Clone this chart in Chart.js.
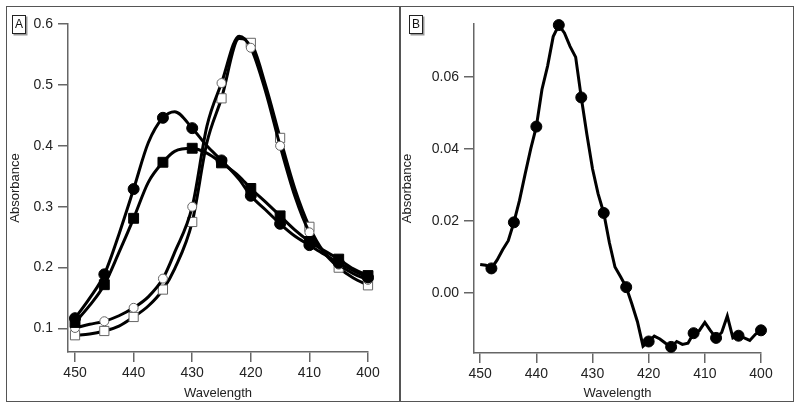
<!DOCTYPE html>
<html>
<head>
<meta charset="utf-8">
<script src="https://cdn.jsdelivr.net/npm/chart.js@4.4.0/dist/chart.umd.min.js"></script>
<style>
body { margin: 0; background: #fff; }
#wrap { position: relative; width: 800px; height: 407px; font-family: "Liberation Sans", Arial, sans-serif; }
canvas { position: absolute; top: 0; }
#chartA { left: 0; }
#chartB { left: 400px; }
.frame { position: absolute; border: 1.5px solid #555; box-sizing: border-box; pointer-events: none; }
.tag { position: absolute; box-sizing: border-box; width: 14px; height: 19px; border: 1px solid #222;
       box-shadow: 1.5px 1.5px 0 #999; font-size: 12px; line-height: 17px; text-align: center; color: #111; background: #fff; }
</style>
</head>
<body>
<div id="wrap">
  <canvas id="chartA" width="400" height="407"></canvas>
  <canvas id="chartB" width="400" height="407"></canvas>
  <div class="frame" style="left:6px;top:6px;width:395px;height:396px"></div>
  <div class="frame" style="left:399px;top:6px;width:395px;height:396px"></div>
  <div class="tag" style="left:12px;top:15px">A</div>
  <div class="tag" style="left:409px;top:15px">B</div>
</div>
<script>
// panel A : wavelength grid and the four spectra
let aWave = [450, 447.5, 445, 442.5, 440, 437.5, 435, 433, 430, 427.5, 425, 422, 420, 417.5, 415, 412.5, 410, 407.5, 405, 402.5, 400];
let aFilledCircle = [0.117, 0.150, 0.189, 0.255, 0.329, 0.405, 0.446, 0.456, 0.429, 0.400, 0.376, 0.345, 0.318, 0.295, 0.272, 0.252, 0.237, 0.222, 0.208, 0.195, 0.184];
let aFilledSquare = [0.110, 0.138, 0.172, 0.225, 0.281, 0.340, 0.373, 0.391, 0.396, 0.388, 0.372, 0.350, 0.330, 0.308, 0.285, 0.262, 0.243, 0.228, 0.214, 0.198, 0.187];
let aOpenCircle   = [0.101, 0.107, 0.112, 0.121, 0.134, 0.152, 0.182, 0.225, 0.300, 0.432, 0.503, 0.580, 0.561, 0.490, 0.400, 0.318, 0.258, 0.225, 0.205, 0.190, 0.180];
let aOpenSquare   = [0.089, 0.091, 0.096, 0.104, 0.119, 0.137, 0.164, 0.198, 0.275, 0.405, 0.478, 0.576, 0.569, 0.500, 0.413, 0.330, 0.267, 0.225, 0.200, 0.183, 0.171];
let aMarks = [450, 445, 440, 435, 430, 425, 420, 415, 410, 405, 400];
let aYTicks = [0.1, 0.2, 0.3, 0.4, 0.5, 0.6];

// panel B : difference spectrum
let bWave = [450, 449, 448, 447, 446, 445, 444, 443, 442, 441, 440, 439, 438, 437, 436, 435, 434, 433, 432, 431, 430,
             429, 428, 427, 426, 425, 424, 423, 422, 421, 420, 419, 418, 417, 416, 415, 414, 413, 412, 411, 410,
             409, 408, 407, 406, 405, 404, 403, 402, 401, 400];
let bValue = [0.0079, 0.0077, 0.0068, 0.0091, 0.0120, 0.0145, 0.0196, 0.0257, 0.0330, 0.0400, 0.0462,
              0.0565, 0.0630, 0.0712, 0.0744, 0.0722, 0.0685, 0.0655, 0.0543, 0.0440, 0.0345,
              0.0275, 0.0222, 0.0140, 0.0072, 0.0045, 0.0016, -0.0030, -0.0080, -0.0148, -0.0135,
              -0.0120, -0.0128, -0.0140, -0.0150, -0.0135, -0.0143, -0.0140, -0.0112, -0.0105, -0.0082,
              -0.0105, -0.0125, -0.0110, -0.0064, -0.0125, -0.0119, -0.0125, -0.0132, -0.0115, -0.0104];
let bMarks = [448, 444, 440, 436, 432, 428, 424, 420, 416, 412, 408, 404, 400];
let bYTicks = [0, 0.02, 0.04, 0.06];

let xTicks = [450, 440, 430, 420, 410, 400];

const axisColor = '#666';
const textColor = '#222';
const font = "'Liberation Sans', Arial, sans-serif";

function pts(xs, ys) {
    return xs.map((x, i) => ({x: x, y: ys[i]}));
}

function lineSet(xs, ys, marks, style, open, r) {
    return {
        data: pts(xs, ys),
        borderColor: '#000',
        borderWidth: 3,
        cubicInterpolationMode: 'monotone',
        pointStyle: style,
        pointRadius: (c) => marks.includes(c.raw.x) ? r : 0,
        pointBackgroundColor: open ? '#fff' : '#000',
        pointBorderColor: open ? '#666' : '#000',
        pointBorderWidth: 1,
        clip: false
    };
}

function makeOptions(o) {
    return {
        responsive: false,
        animation: false,
        events: [],
        layout: { padding: { left: o.padLeft, right: o.padRight, top: 24, bottom: 0 } },
        plugins: { legend: { display: false }, tooltip: { enabled: false } },
        scales: {
            x: {
                type: 'linear', reverse: true, min: 400, max: o.xMax,
                afterBuildTicks: (s) => { s.ticks = xTicks.map(v => ({value: v})); },
                afterFit: (s) => { s.height = o.xHeight; },
                border: { color: axisColor, width: 1.5 },
                grid: { drawOnChartArea: false, drawTicks: true, tickLength: 10, color: axisColor, lineWidth: 1.5 },
                ticks: { color: textColor, font: { family: font, size: 14 }, padding: 3, maxRotation: 0 },
                title: { display: true, text: 'Wavelength', color: textColor, font: { family: font, size: 13 }, padding: { top: 0, bottom: 6 } }
            },
            y: {
                type: 'linear', min: o.yMin, max: o.yMax,
                afterBuildTicks: (s) => { s.ticks = o.yTicks.map(v => ({value: v})); },
                afterFit: (s) => { s.width = o.yWidth; },
                border: { color: axisColor, width: 1.5 },
                grid: { drawOnChartArea: false, drawTicks: true, tickLength: 10, color: axisColor, lineWidth: 1.5 },
                ticks: { color: textColor, font: { family: font, size: 14 }, padding: 5,
                         callback: (v) => Number(v).toFixed(o.digits) },
                title: { display: true, text: 'Absorbance', color: textColor, font: { family: font, size: 13 }, padding: { top: 0, bottom: 0 } }
            }
        }
    };
}

window.addEventListener('load', function() {
    new Chart(document.getElementById('chartA'), {
        type: 'line',
        data: {
            datasets: [
                lineSet(aWave, aFilledCircle, aMarks, 'circle', false, 5.5),
                lineSet(aWave, aFilledSquare, aMarks, 'rect', false, 7),
                lineSet(aWave, aOpenCircle, aMarks, 'circle', true, 4.5),
                lineSet(aWave, aOpenSquare, aMarks, 'rect', true, 6.5)
            ]
        },
        options: makeOptions({ padLeft: 8, padRight: 32, xMax: 451.2, xHeight: 55, yWidth: 60,
                               yMin: 0.0615, yMax: 0.6, yTicks: aYTicks, digits: 1 })
    });

    let bSet = lineSet(bWave, bValue, bMarks, 'circle', false, 5.5);
    bSet.cubicInterpolationMode = 'default';
    bSet.tension = 0;
    new Chart(document.getElementById('chartB'), {
        type: 'line',
        data: { datasets: [bSet] },
        options: makeOptions({ padLeft: 0, padRight: 39, xMax: 451.1, xHeight: 54, yWidth: 74,
                               yMin: -0.0167, yMax: 0.0747, yTicks: bYTicks, digits: 2 })
    });
});
</script>
</body>
</html>
